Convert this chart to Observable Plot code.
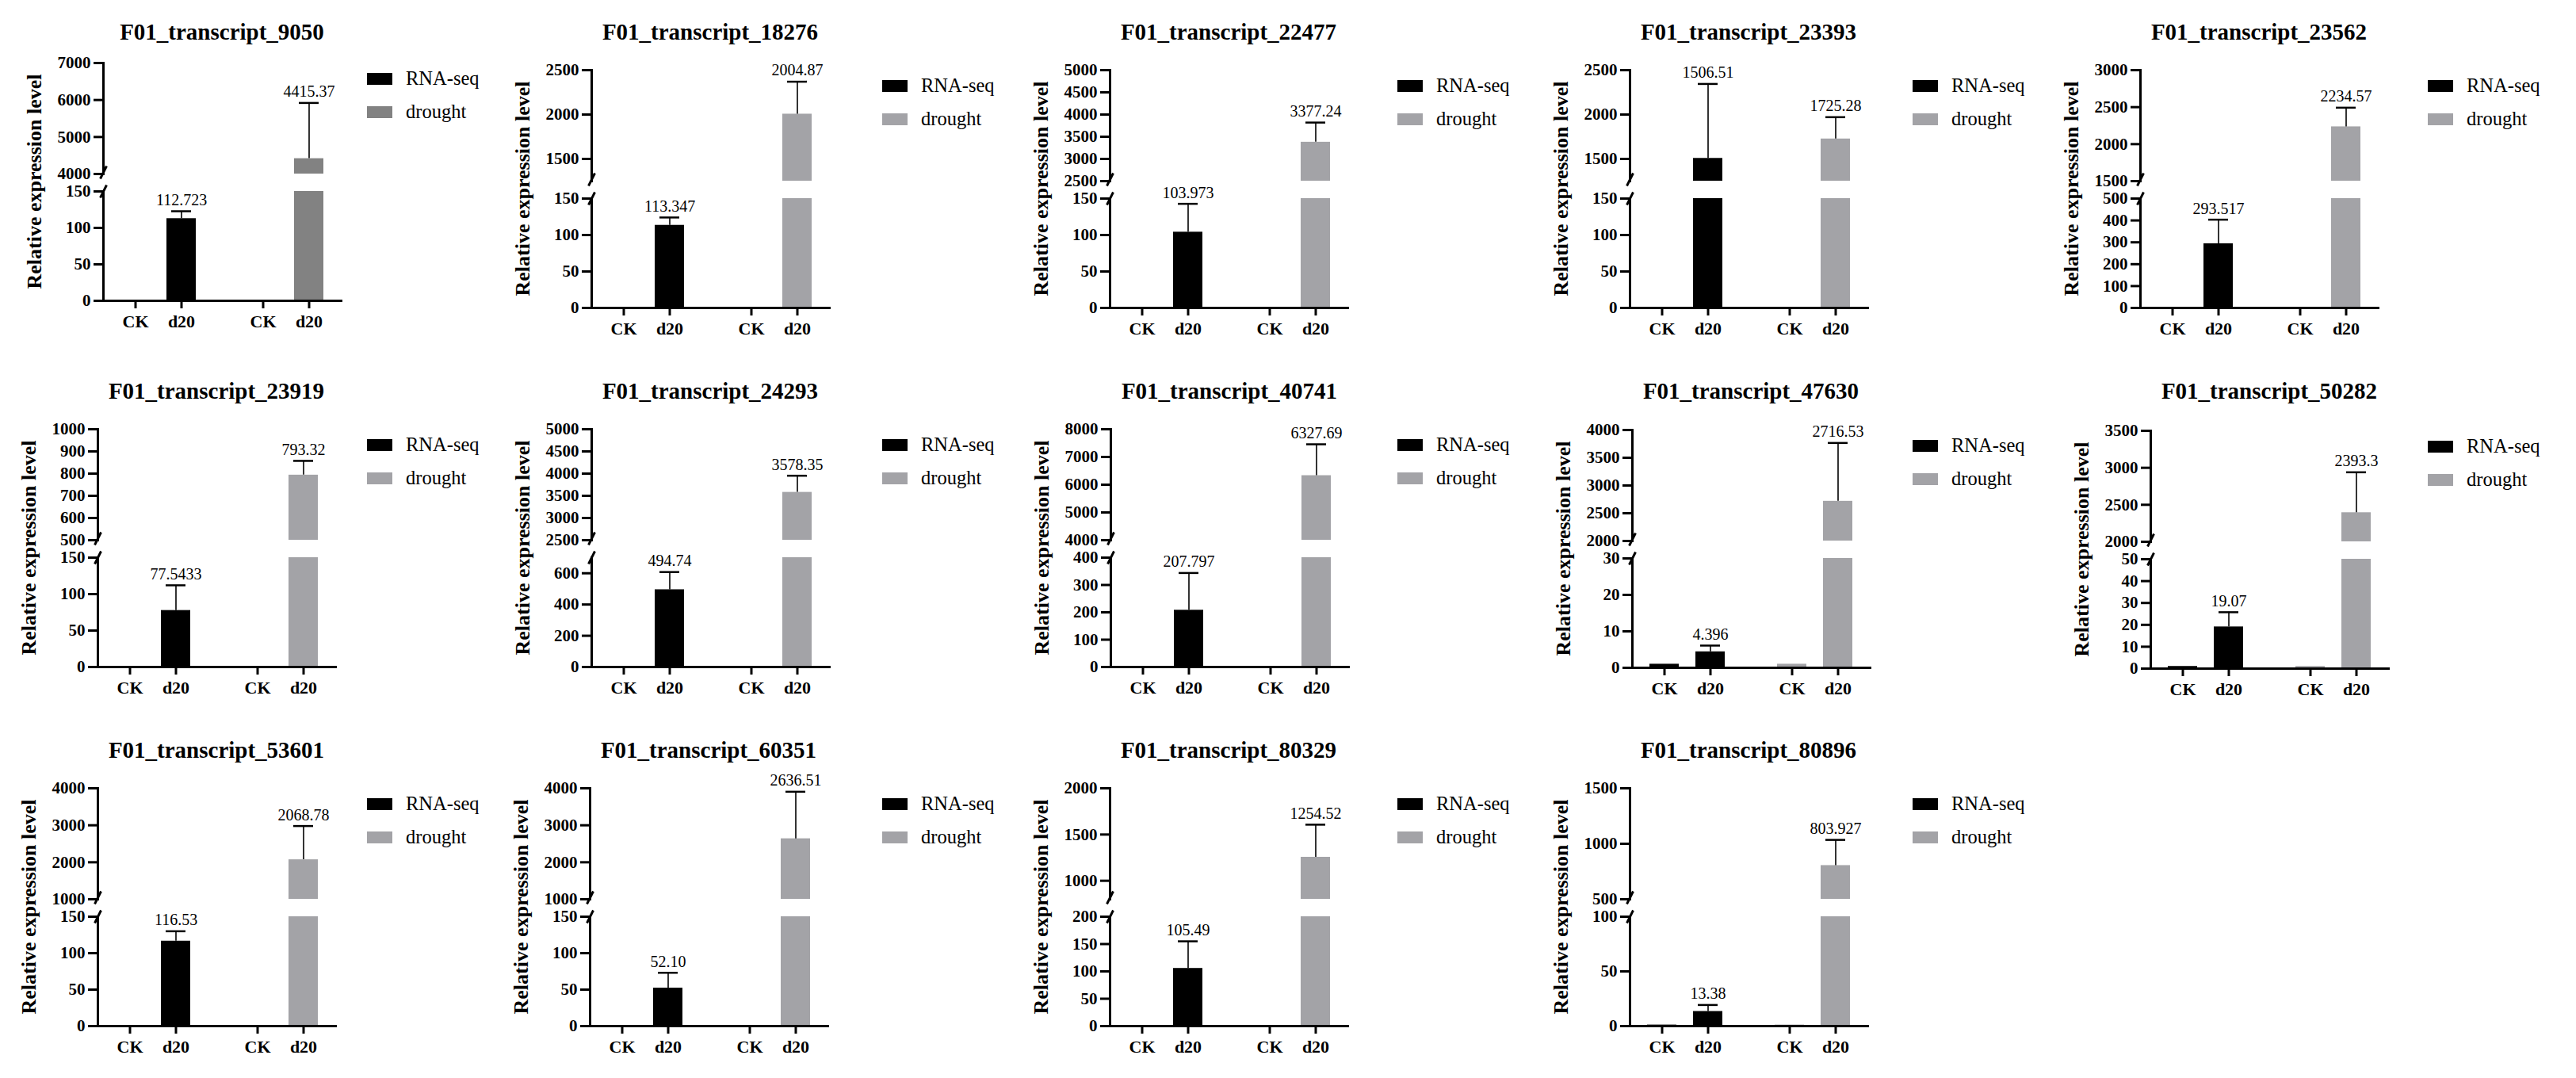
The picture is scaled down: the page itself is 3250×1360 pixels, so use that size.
<!doctype html>
<html>
<head>
<meta charset="utf-8">
<script src="https://cdn.jsdelivr.net/npm/d3@7"></script>
<script src="https://cdn.jsdelivr.net/npm/@observablehq/plot@0.6"></script>
<style>
  body { margin: 0; background: #fff; font-family: "Liberation Serif", "Times New Roman", serif; }
  #grid { display: grid; grid-template-columns: repeat(5, 650px); grid-auto-rows: 453px; width: 3250px; }
  .cell { position: relative; }
  .cell svg { position: absolute; left: 0; }
  .cell svg text { font-family: "Liberation Serif", "Times New Roman", serif; }
  .cell svg g[aria-label="y-axis tick label"] text,
  .cell svg g[aria-label="x-axis tick label"] text { font-weight: bold; }
  .title { position: absolute; font-weight: bold; font-size: 29px; line-height: 1; white-space: nowrap; transform: translateX(-50%); }
  .ylab { position: absolute; font-weight: bold; font-size: 26px; line-height: 1; white-space: nowrap; transform: translate(-50%, -50%) rotate(-90deg); }
  .legend { position: absolute; left: 463px; font-size: 24.5px; }
  .legend .row { display: flex; align-items: center; height: 42px; }
  .legend .sw { width: 32px; height: 15px; margin-right: 17px; }
</style>
</head>
<body>
<div id="grid"></div>
<script type="module">
  const transcripts = ["F01_transcript_9050", "F01_transcript_18276", "F01_transcript_22477", "F01_transcript_23393", "F01_transcript_23562",
    "F01_transcript_23919", "F01_transcript_24293", "F01_transcript_40741", "F01_transcript_47630", "F01_transcript_50282",
    "F01_transcript_53601", "F01_transcript_60351", "F01_transcript_80329", "F01_transcript_80896"];
  const groups = ["RNA-seq", "drought"];
  const conds = ["CK", "d20"];

  // CK is the reference level (1)
  const rnaCK = [1, 1, 1, 1, 1, 1, 1, 1, 1, 1, 1, 1, 1, 1];
  const droughtCK = [1, 1, 1, 1, 1, 1, 1, 1, 1, 1, 1, 1, 1, 1];
  const rnaD20 = [112.723, 113.347, 103.973, 1506.51, 293.517, 77.5433, 494.74, 207.797, 4.396, 19.07, 116.53, 52.10, 105.49, 13.38];
  const rnaErr = [10.1, 10.7, 38.8, 838, 110, 34.5, 113, 136, 1.7, 6.7, 13.5, 21, 49.5, 5.9];
  const rnaLabels = ["112.723", "113.347", "103.973", "1506.51", "293.517", "77.5433", "494.74", "207.797", "4.396", "19.07", "116.53", "52.10", "105.49", "13.38"];
  const droughtD20 = [4415.37, 2004.87, 3377.24, 1725.28, 2234.57, 793.32, 3578.35, 6327.69, 2716.53, 2393.3, 2068.78, 2636.51, 1254.52, 803.927];
  const droughtErr = [1505, 365, 442, 245, 258, 64, 374, 1129, 1050, 546, 911, 1270, 352, 231];
  const droughtLabels = ["4415.37", "2004.87", "3377.24", "1725.28", "2234.57", "793.32", "3578.35", "6327.69", "2716.53", "2393.3", "2068.78", "2636.51", "1254.52", "803.927"];

  // broken y axis: lower segment [0, lowerCeil], upper segment [upperFloor, last upper tick]
  const lowerCeil = [150, 150, 150, 150, 500, 150, 700, 400, 30, 50, 150, 150, 200, 100];
  const upperFloor = [4000, 1250, 2500, 1250, 1500, 500, 2500, 4000, 2000, 2000, 1000, 1000, 800, 500];
  const lowerTicks = [
    [0, 50, 100, 150], [0, 50, 100, 150], [0, 50, 100, 150], [0, 50, 100, 150], [0, 100, 200, 300, 400, 500],
    [0, 50, 100, 150], [0, 200, 400, 600], [0, 100, 200, 300, 400], [0, 10, 20, 30], [0, 10, 20, 30, 40, 50],
    [0, 50, 100, 150], [0, 50, 100, 150], [0, 50, 100, 150, 200], [0, 50, 100]];
  const upperTicks = [
    [4000, 5000, 6000, 7000], [1500, 2000, 2500], [2500, 3000, 3500, 4000, 4500, 5000], [1500, 2000, 2500], [1500, 2000, 2500, 3000],
    [500, 600, 700, 800, 900, 1000], [2500, 3000, 3500, 4000, 4500, 5000], [4000, 5000, 6000, 7000, 8000], [2000, 2500, 3000, 3500, 4000], [2000, 2500, 3000, 3500],
    [1000, 2000, 3000, 4000], [1000, 2000, 3000, 4000], [1000, 1500, 2000], [500, 1000, 1500]];
  const droughtColor = ["#828282", "#a3a3a7", "#a3a3a7", "#a3a3a7", "#a3a3a7", "#a3a3a7", "#a3a3a7",
    "#a3a3a7", "#a3a3a7", "#a3a3a7", "#a3a3a7", "#a3a3a7", "#a3a3a7", "#a3a3a7"];

  // layout of each cell: where the y axis sits, and a vertical nudge
  const axisX = [130, 96, 100, 106, 100, 123, 96, 101, 109, 113, 123, 94, 100, 106];
  const nudgeY = [-9, 0, 0, 0, 0, 0, 0, 0, 1, 2, 0, 0, 0, 0];

  const serif = "Liberation Serif, Times New Roman, serif";
  const plotW = 300;
  const slash = {
    draw(ctx, size) {
      const r = Math.sqrt(size / Math.PI);
      ctx.moveTo(-r * 0.5, r);
      ctx.lineTo(r * 0.5, -r);
    }
  };

  function segment(rows, i, part) {
    const upper = part === "upper";
    const domain = upper ? [upperFloor[i], upperTicks[i].at(-1)] : [0, lowerCeil[i]];
    const top = (d) => d.value + d.err;
    const inSeg = (d) => upper ? top(d) >= upperFloor[i] : top(d) < upperFloor[i];
    const marks = [
      Plot.barY(rows, { x: "cond", fx: "group", y1: 0, y2: "value", fill: "group", clip: true }),
      Plot.ruleX(rows.filter((d) => d.err > 0), { x: "cond", fx: "group", y1: "value", y2: top, stroke: "black", strokeWidth: 1.6, clip: true }),
      Plot.tickY(rows.filter((d) => d.err > 0), { x: "cond", fx: "group", y: top, insetLeft: 6, insetRight: 6, stroke: "black", strokeWidth: 2.5, clip: true }),
      Plot.text(rows.filter((d) => d.label && inSeg(d)), { x: "cond", fx: "group", y: top, text: "label", dy: -14, fontSize: 20, fontFamily: serif, fill: "black" }),
      Plot.frame({ anchor: "left", stroke: "black", strokeWidth: 3, facet: "super" }),
      Plot.axisY({ ticks: upper ? upperTicks[i] : lowerTicks[i], tickFormat: "d", tickSize: 12, tickPadding: 4, strokeWidth: 3,
        fontSize: 21, fontWeight: "bold", fontFamily: serif, label: null }),
      Plot.dot([0], { frameAnchor: upper ? "bottom-left" : "top-left", dy: upper ? -2 : 0, symbol: slash, r: 8,
        fill: "none", stroke: "black", strokeWidth: 3, facet: "super" })
    ];
    if (!upper) {
      marks.push(
        Plot.frame({ anchor: "bottom", stroke: "black", strokeWidth: 3, facet: "super" }),
        Plot.axisX({ tickSize: 10, tickPadding: 8, strokeWidth: 3, fontSize: 22, fontWeight: "bold", fontFamily: serif, label: null })
      );
    }
    return Plot.plot({
      width: axisX[i] + plotW + 12,
      height: upper ? 210 : 228,
      marginLeft: axisX[i],
      marginRight: 12,
      marginTop: upper ? 60 : 40,
      marginBottom: upper ? 10 : 50,
      style: { background: "none", overflow: "visible", fontFamily: serif, color: "black" },
      fx: { domain: groups, paddingInner: 0.137, paddingOuter: 0, axis: null, label: null },
      x: { domain: conds, padding: 0.356, axis: null },
      y: { domain, axis: null },
      color: { domain: groups, range: ["#000000", droughtColor[i]] },
      marks
    });
  }

  const grid = document.querySelector("#grid");
  transcripts.forEach((name, i) => {
    const rows = [
      { group: "RNA-seq", cond: "CK", value: rnaCK[i], err: 0 },
      { group: "RNA-seq", cond: "d20", value: rnaD20[i], err: rnaErr[i], label: rnaLabels[i] },
      { group: "drought", cond: "CK", value: droughtCK[i], err: 0 },
      { group: "drought", cond: "d20", value: droughtD20[i], err: droughtErr[i], label: droughtLabels[i] }
    ];
    const dy = nudgeY[i];
    const cell = document.createElement("div");
    cell.className = "cell";

    const up = segment(rows, i, "upper");
    up.style.top = 28 + dy + "px";
    const low = segment(rows, i, "lower");
    low.style.top = 210 + dy + "px";
    cell.append(up, low);

    const title = document.createElement("div");
    title.className = "title";
    title.style.left = axisX[i] + plotW / 2 + "px";
    title.style.top = "26px";
    title.textContent = name;

    const ylab = document.createElement("div");
    ylab.className = "ylab";
    ylab.style.left = axisX[i] - 86 + "px";
    ylab.style.top = 238 + dy + "px";
    ylab.textContent = "Relative expression level";

    const legend = document.createElement("div");
    legend.className = "legend";
    legend.style.top = 87 + dy + "px";
    groups.forEach((g, k) => {
      const row = document.createElement("div");
      row.className = "row";
      const sw = document.createElement("span");
      sw.className = "sw";
      sw.style.background = k === 0 ? "#000000" : droughtColor[i];
      const tx = document.createElement("span");
      tx.textContent = g;
      row.append(sw, tx);
      legend.append(row);
    });

    cell.append(title, ylab, legend);
    grid.append(cell);
  });
</script>
</body>
</html>
